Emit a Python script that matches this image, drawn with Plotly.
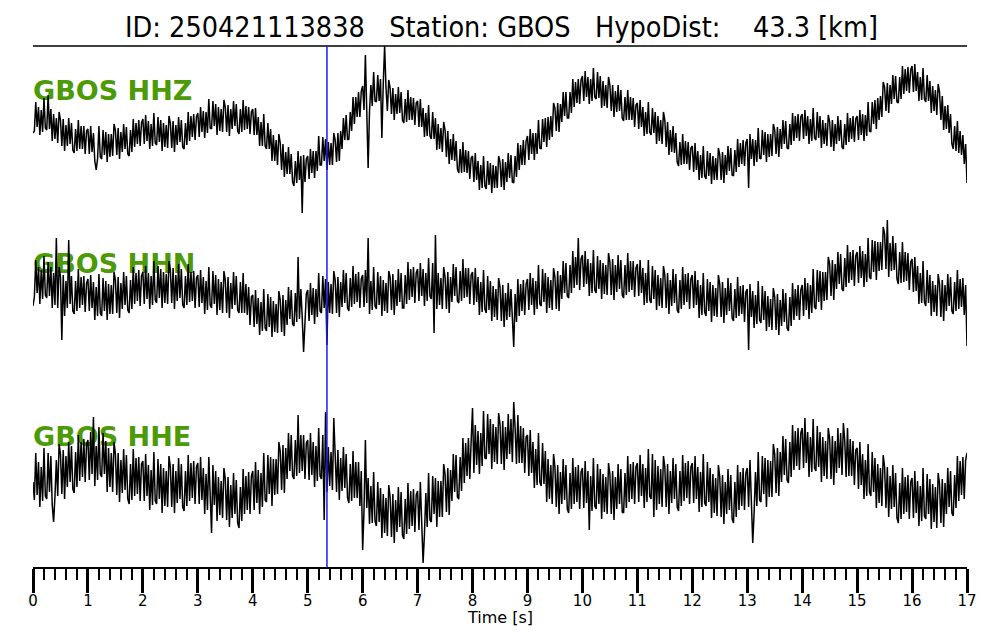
import plotly.graph_objects as go

# ---------------- data ----------------
title_text = "ID: 250421113838   Station: GBOS   HypoDist:    43.3 [km]"
channel_labels = ["GBOS HHZ", "GBOS HHN", "GBOS HHE"]
sample_interval = 0.025         # seconds between samples
pick_time = 5.35                # P pick [s]
x_tick_values = list(range(0, 18))
x_title = "Time [s]"

# amplitudes (display units); one row per second of record
hhz = [
    -3, -1, 28, 3, 23, -5, 20, -2, 32, 2, 0, 35, 1, 21, -11, 16, -9, 12, -13, 18,
    10, -16, 11, -21, 5, -16, 12, -14, 7, -20, -23, 1, -21, 10, -19, 4, -19, 4, -24, -1,
    1, -24, 4, -22, -3, -31, -40, -29, 4, -27, -29, 0, -25, -2, -32, -4, -27, -4, -26, 6,
    0, -25, 2, -29, -2, -22, 6, -19, 3, -24, -26, 0, -22, 11, -17, 7, -14, 10, -16, 7,
    11, -14, 15, -11, 9, -19, 6, -16, 17, -13, -15, 13, -12, 10, -21, 7, -17, 5, -18, 14,
    7, -18, 9, -22, 5, -15, 13, -12, 10, -17, -19, 7, -15, 18, -11, 14, -7, 16, -10, 13,
    17, -7, 23, -2, 19, -8, 18, -3, 31, 2, 1, 29, 4, 26, -5, 23, -1, 21, -2, 30,
    23, -2, 25, -6, 21, 1, 29, 4, 26, -1, -4, 21, -2, 30, 0, 24, 1, 23, -4, 18,
    21, -5, 22, -5, 13, -16, 8, -16, 16, -16, -19, 7, -19, 1, -31, -5, -31, -10, -35, -4,
    -13, -40, -14, -47, -22, -44, -17, -44, -24, -52, -56, -31, -53, -21, -50, -26, -83, -25, -52, -29,
    -26, -49, -19, -43, -21, -48, -21, -41, -6, -35, -35, -7, -31, -9, -40, -12, -35, -13, -35, -3,
    -10, -32, -3, -31, -1, -19, 12, -10, 15, -10, -9, 18, -1, 33, 6, 33, 13, 38, 13, 39,
    44, 20, 75, 25, -38, 19, 45, 24, 58, 29, 28, 55, 29, 51, -8, 46, 84, 42, 19, 50,
    42, 16, 42, 10, 36, 16, 43, 17, 38, 10, 7, 31, 8, 40, 10, 33, 10, 32, 5, 27,
    29, 3, 31, 3, 22, -7, 17, -6, 25, -6, -9, 18, -9, 12, -20, 6, -19, 2, -22, 8,
    0, -27, -1, -34, -9, -30, -4, -31, -11, -39, -43, -19, -43, -12, -42, -20, -43, -21, -49, -28,
    -26, -52, -23, -50, -31, -60, -35, -58, -26, -56, -59, -31, -55, -33, -63, -35, -58, -36, -58, -26,
    -32, -57, -29, -60, -32, -52, -23, -48, -25, -52, -53, -26, -47, -13, -40, -15, -35, -10, -35, -11,
    -6, -30, 1, -24, -3, -30, -3, -24, 10, -18, -19, 11, -12, 12, -17, 13, -10, 14, -7, 27,
    22, -1, 27, -2, 26, 8, 38, 14, 38, 12, 12, 38, 17, 51, 23, 48, 27, 51, 26, 50,
    54, 29, 59, 33, 53, 26, 51, 29, 62, 33, 31, 58, 32, 54, 22, 49, 24, 45, 22, 53,
    45, 19, 45, 13, 39, 18, 45, 19, 40, 12, 9, 33, 10, 40, 10, 33, 10, 32, 3, 25,
    27, 1, 30, 3, 23, -6, 18, -4, 28, -2, -5, 22, -3, 18, -14, 14, -11, 10, -14, 18,
    10, -17, 8, -25, 0, -22, 4, -23, -3, -32, -36, -12, -35, -4, -34, -11, -34, -12, -40, -18,
    -16, -42, -13, -40, -21, -50, -25, -48, -16, -46, -49, -21, -46, -23, -54, -26, -50, -28, -50, -18,
    -25, -50, -22, -53, -25, -45, -16, -41, -18, -45, -46, -20, -42, -9, -37, -13, -34, -10, -36, -13,
    -9, -58, -4, -29, -9, -36, -10, -32, 2, -28, -29, 0, -25, -2, -32, -4, -27, -4, -26, 6,
    0, -24, 3, -27, 1, -19, 10, -14, 9, -18, -19, 6, -15, 17, -11, 14, -8, 16, -11, 13,
    16, -9, 20, -6, 14, -14, 11, -11, 22, -8, -10, 18, -8, 14, -18, 10, -14, 7, -16, 15,
    8, -17, 10, -21, 6, -14, 14, -11, 10, -17, -19, 6, -15, 17, -12, 12, -9, 14, -12, 11,
    14, -10, 20, -5, 16, -11, 15, -6, 28, -1, -2, 28, 6, 30, 1, 32, 10, 34, 13, 48,
    43, 19, 47, 17, 45, 26, 55, 31, 54, 28, 27, 53, 31, 64, 36, 61, 39, 63, 37, 60,
    64, 38, 66, 39, 58, 29, 53, 30, 62, 31, 28, 55, 29, 49, 17, 44, 19, 40, 15, 46,
    38, 10, 34, 0, 24, 1, 25, -3, 16, -14, -19, 4, -21, 9, -23, -1, -25, -5, -34, -14,
    -53,
]
hhn = [
    -16, -7, 30, -3, 23, -14, 20, -9, 34, -5, -8, 28, -6, 23, -18, 17, -15, 52, -18, 23,
    13, -50, 15, -26, 9, -18, 50, -14, 14, -21, -24, 9, -21, 21, -18, 13, -15, 14, -22, 7,
    11, -21, 15, -18, 8, -30, 3, -26, 16, -23, -26, 12, -21, 9, -30, 6, -24, 5, -24, 18,
    10, -23, 13, -28, 7, -19, 18, -15, 14, -20, -23, 10, -19, 23, -14, 17, -11, 20, -16, 14,
    18, -14, 24, -9, 17, -19, 14, -15, 29, -10, -13, 24, -8, 21, -18, 18, -13, 16, -14, 29,
    20, -13, 22, -19, 15, -11, 26, -8, 21, -15, -18, 14, -15, 26, -12, 18, -11, 19, -18, 12,
    15, -17, 20, -13, 13, -24, 9, -20, 23, -15, -18, 19, -14, 15, -25, 11, -20, 8, -23, 19,
    10, -23, 13, -28, 7, -19, 18, -15, 14, -20, -23, 8, -23, 17, -23, 6, -25, 3, -35, -7,
    -5, -37, 0, -34, -8, -45, -12, -41, 1, -38, -41, -4, -37, -7, -47, -11, -42, -14, -43, -1,
    -10, -42, -5, -46, -10, -35, 3, -29, 0, -34, -36, -3, -32, 33, -29, 1, -27, -62, -33, -4,
    0, -31, 7, -25, 2, -34, 1, -27, 17, -21, -23, 14, -18, 11, -55, 8, -23, 6, -24, 19,
    10, -23, 13, -27, 8, -17, 20, -13, 17, -18, -21, 12, -17, 24, -14, 16, -12, 18, -18, 11,
    15, -17, 20, -13, 52, -24, 9, -20, 23, -16, -19, 18, -15, 14, -26, 10, -21, 7, -23, 19,
    13, -20, 16, -25, 10, -16, 21, -12, 17, -18, -18, 15, -14, 28, -10, 21, -7, 23, -13, 17,
    21, -11, 27, -6, 21, -16, 17, -11, 32, -6, -9, 27, -43, 55, -19, 17, -15, 12, -19, 23,
    13, -19, 18, -23, 13, -12, 26, -6, 23, -11, -13, 19, -11, 31, -8, 22, -7, 22, -14, 15,
    18, -15, 22, -12, 13, -25, 8, -22, 20, -19, -23, 14, -20, 9, -31, 4, -27, 1, -30, 12,
    3, -31, 5, -37, -3, -30, 7, -27, 1, -34, -57, -4, -32, 11, -26, 6, -21, 10, -25, 6,
    11, -20, 17, -15, 12, -25, 9, -19, 25, -14, -16, 21, -12, 17, -23, 13, -18, 10, -20, 22,
    13, -19, 19, -21, 15, -9, 29, -3, 27, -6, -8, 25, -3, 39, 2, 33, 5, 52, 0, 31,
    35, 3, 39, 6, 31, -6, 27, -3, 40, 0, -3, 34, 1, 30, -9, 27, -4, 25, -5, 37,
    28, -5, 31, -10, 25, -2, 35, 1, 30, -5, -8, 25, -5, 37, -2, 29, 0, 29, -7, 22,
    26, -6, 30, -3, 22, -15, 17, -13, 30, -10, -13, 24, -9, 20, -20, 15, -16, 12, -18, 24,
    15, -18, 17, -24, 10, -16, 21, -13, 16, -20, -23, 10, -19, 23, -15, 16, -12, 17, -19, 11,
    15, -18, 19, -15, 10, -28, 5, -25, 17, -22, -26, 11, -21, 8, -32, 5, -26, 2, -27, 15,
    6, -27, 8, -33, 2, -25, 12, -21, 7, -28, -31, 1, -28, 13, -26, 4, -24, 5, -32, -2,
    1, -60, 6, -27, -1, -38, -5, -34, 9, -30, -33, 4, -30, -1, -41, -6, -37, -9, -40, 2,
    -7, -40, -4, -45, -10, -36, 1, -32, -3, -38, -41, -7, -36, 7, -30, 1, -26, 5, -30, 0,
    5, -26, 12, -20, 7, -29, 5, -23, 21, -17, -19, 20, -12, 19, -20, 18, -11, 18, -10, 33,
    26, -6, 30, -10, 26, 1, 38, 6, 36, 1, -1, 32, 3, 45, 7, 38, 10, 40, 4, 34,
    38, 7, 44, 12, 39, 3, 36, 8, 52, 13, 11, 50, 18, 49, 10, 48, 19, 48, 20, 63,
    56, 21, 70, 13, 47, 19, 54, 20, 47, 11, 6, 38, 7, 48, 8, 38, 9, 37, 0, 28,
    31, -2, 33, -1, 24, -14, 17, -13, 29, -12, -16, 20, -13, 15, -26, 9, -22, 5, -26, 16,
    6, -27, 10, -31, 5, -21, 16, -16, 13, -21, -24, 8, -21, 20, -19, 11, -17, 12, -25, 5,
    -56,
]
hhe = [
    -2, -20, 27, -15, 18, -27, 13, -21, 32, -16, -19, 27, -12, 24, -25, -42, -16, 20, -16, 36,
    26, -14, 30, -19, 24, -7, 38, -2, 34, -9, -13, 28, -7, 45, -1, 38, 3, 41, -2, 36,
    40, 0, 48, 6, 63, -6, 34, 0, 53, 6, 3, 47, 6, 39, -12, 32, -7, 27, -12, 38,
    26, -15, 27, -22, 20, -13, 31, -10, 25, -19, -24, 16, -20, 31, -16, 22, -14, 23, -21, 16,
    19, -21, 26, -16, 15, -30, 10, -25, 28, -21, -24, 21, -19, 16, -33, 12, -26, 9, -27, 24,
    13, -27, 16, -33, 9, -23, 22, -19, 16, -27, -31, 9, -26, 25, -21, 17, -18, 19, -24, 13,
    17, -24, 23, -20, 12, -34, 6, -30, 23, -26, -53, 15, -25, 9, -41, 3, -35, -1, -38, 12,
    1, -40, 3, -47, -5, -38, 7, -34, 0, -43, -48, -7, -41, 11, -34, 4, -30, 8, -34, 4,
    9, -30, 18, -23, 10, -34, 7, -27, 27, -20, -22, 25, -14, 23, -26, 21, -15, 21, -14, 38,
    29, -10, 35, -13, 32, 1, 47, 9, 45, 4, 1, 40, 4, 65, 7, 45, 9, 45, 1, 37,
    40, 0, 47, 5, 38, -7, 34, -1, 52, 4, 1, 45, -40, 68, -12, 33, -6, 28, -10, 62,
    29, -12, 30, -20, 22, -11, 33, -8, 26, -18, -23, 16, -21, 29, -18, 18, -18, 18, -26, 9,
    -70, -30, 40, -28, 2, -44, -6, -43, 8, -41, -46, -2, -42, -8, -58, -14, -53, -18, -56, -5,
    -17, -57, -14, -63, -20, -52, -7, -47, -12, -55, -59, -19, -54, -3, -49, -11, -46, -9, -52, -15,
    -11, -50, -2, -43, -83, -54, -13, -47, 7, -40, -42, 4, -34, 2, -47, -1, -37, -1, -37, 16,
    6, -32, 12, -35, 10, -21, 26, -12, 25, -17, -19, 23, -11, 42, -3, 37, 4, 42, 1, 39,
    72, 7, 55, 15, 49, 6, 47, 14, 69, 22, 21, 66, 26, 61, 11, 56, 18, 53, 16, 67,
    56, 16, 59, 10, 53, 21, 66, 26, 61, 18, 78, 52, 16, 65, 17, 54, 17, 52, 7, 43,
    45, 4, 50, 7, 38, -8, 31, -5, 47, -2, -6, 37, -4, 29, -22, 21, -19, 15, -24, 26,
    13, -27, 15, -34, 8, -24, 21, -20, 15, -29, -33, 7, -29, 22, -24, 13, -22, 15, -29, 8,
    12, -28, 19, -23, 9, -50, 4, -31, 22, -26, -29, 16, -24, 11, -39, 6, -32, 3, -34, 17,
    6, -34, 9, -40, 3, -29, 16, -24, 11, -32, -33, 7, -28, 24, -22, 16, -19, 18, -24, 13,
    17, -22, 25, -16, 16, -28, 12, -22, 31, -16, -19, 26, -37, 20, -30, 14, -24, 11, -27, 24,
    13, -27, 16, -34, 9, -23, 22, -19, 16, -27, -31, 9, -26, 25, -21, 17, -18, 19, -24, 13,
    17, -23, 24, -19, 13, -32, 8, -27, 26, -23, -26, 18, -22, 12, -38, 6, -33, 2, -36, 15,
    3, -37, 5, -44, -2, -34, 11, -30, 5, -39, -43, -2, -37, 15, -30, 8, -26, 12, -30, 7,
    12, -27, 20, -21, -63, -33, 8, -26, 28, -20, -22, 24, -14, 22, -27, 20, -17, 19, -17, 36,
    26, -13, 32, -16, 28, -2, 44, 5, 41, 0, -3, 38, 3, 55, 10, 49, 14, 52, 10, 47,
    52, 12, 62, 17, 48, 3, 43, 8, 61, 12, 9, 54, 13, 48, -2, 43, 4, 39, 1, 52,
    41, 1, 44, -5, 39, 7, 52, 12, 47, 5, 57, 39, 3, 52, 4, 41, 4, 39, -5, 30,
    32, -9, 38, -5, 26, -19, 20, -16, 36, -12, -16, 28, -12, 22, -28, 16, -23, 12, -26, 25,
    13, -28, 13, -37, 4, -29, 15, -27, 7, -38, -43, -3, -39, 12, -34, 3, -32, 5, -39, -2,
    2, -38, 9, -33, -1, -46, -6, -41, 12, -36, -39, 6, -34, 1, -49, -4, -42, -7, -48, 7,
    -4, -43, 1, -47, -3, -34, 12, -27, 9, -33, -36, 5, -28, 24, -21, 19, -15, 23, -19, 20,
    27,
]
traces_data = [hhz, hhn, hhe]

# ---------------- layout constants ----------------
W, H = 1000, 640
L, R, T, B = 33, 33, 46, 73
plot_h = H - T - B
trace_offsets = [437, 277, 87]
label_offsets = [474, 301, 128]
label_color = "#4b9a06"
font_family = "DejaVu Sans, Liberation Sans, sans-serif"

fig = go.Figure()

# channel labels (drawn first so the traces sit on top)
for lab, ly in zip(channel_labels, label_offsets):
    fig.add_trace(go.Scatter(
        x=[0], y=[ly], mode="text", text=[f"<b>{lab}</b>"],
        textposition="middle right",
        textfont=dict(family=font_family, size=27, color=label_color),
        showlegend=False, hoverinfo="skip", cliponaxis=False,
    ))

for vals, off in zip(traces_data, trace_offsets):
    times = [round(i * sample_interval, 3) for i in range(len(vals))]
    fig.add_trace(go.Scatter(
        x=times, y=[off + v for v in vals], mode="lines",
        line=dict(color="black", width=1.5),
        showlegend=False, hoverinfo="skip",
    ))

fig.update_layout(
    width=W, height=H,
    margin=dict(l=L, r=R, t=T, b=B, pad=0),
    paper_bgcolor="white", plot_bgcolor="white",
    showlegend=False,
    xaxis=dict(
        range=[0, 17], showgrid=False, zeroline=False,
        showline=True, linecolor="black", linewidth=2,
        ticks="outside", ticklen=24, tickwidth=2.5, tickcolor="black",
        tickmode="array", tickvals=x_tick_values,
        ticktext=[str(v) for v in x_tick_values],
        ticklabelstandoff=-5,
        tickfont=dict(family=font_family, size=15, color="black"),
        minor=dict(dtick=0.2, tick0=0, ticks="outside", ticklen=11,
                   tickwidth=2, tickcolor="black", showgrid=False),
    ),
    yaxis=dict(range=[0, plot_h], visible=False, showgrid=False, zeroline=False),
    shapes=[
        dict(type="line", xref="paper", yref="paper", x0=0, x1=1, y0=1, y1=1,
             line=dict(color="black", width=1.5)),
        dict(type="line", xref="x", yref="paper", x0=pick_time, x1=pick_time,
             y0=0, y1=1, line=dict(color="#1a1aff", width=1.5)),
    ],
    annotations=[
        dict(text=title_text.replace(" ", "\u00a0"), xref="paper", yref="paper",
             x=(501 - L) / (W - L - R), y=1 + (T - 27) / plot_h,
             xanchor="center", yanchor="middle", showarrow=False,
             font=dict(family="DejaVu Sans Condensed, Liberation Sans Narrow, DejaVu Sans",
                       size=28.5, color="black")),
        dict(text=x_title, xref="paper", yref="paper",
             x=(500 - L) / (W - L - R), y=-(617 - (H - B)) / plot_h,
             xanchor="center", yanchor="middle", showarrow=False,
             font=dict(family=font_family, size=16, color="black")),
    ],
)

fig.write_html("out.html", config={"displayModeBar": False},
               post_script="document.body.style.margin='0px';")
